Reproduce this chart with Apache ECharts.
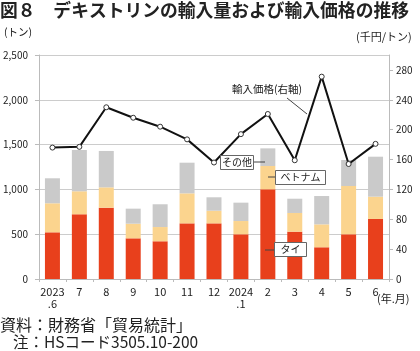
<!DOCTYPE html>
<html>
<head>
<meta charset="utf-8">
<script src="https://cdn.jsdelivr.net/npm/echarts@6/dist/echarts.min.js"></script>
<style>
  html, body { margin: 0; padding: 0; background: #fff; }
  #chart { width: 420px; height: 351px; }
</style>
</head>
<body>
<div id="chart"></div>
<script>
// data
const months = ["2023\n.6", "7", "8", "9", "10", "11", "12", "2024\n.1", "2", "3", "4", "5", "6"];
const thai = [521, 722, 796, 454, 421, 621, 621, 499, 1001, 528, 354, 499, 670];
const vietnam = [324, 257, 227, 163, 159, 335, 141, 148, 260, 209, 256, 539, 249];
const others = [279, 461, 406, 168, 254, 342, 150, 205, 197, 159, 316, 290, 446];
const price = [176, 177, 230, 216, 204, 187, 156, 194, 221, 159, 271, 154, 181];

const FONT = '"Noto Sans CJK JP", "Noto Sans", sans-serif';
const chart = echarts.init(document.getElementById("chart"));

// callout box used for the series names
const boxLabel = (text, x, y, w) => ({
  type: "group",
  left: x,
  top: y,
  z: 100,
  children: [
    {
      type: "rect",
      z: 100,
      shape: { x: 0, y: 0, width: w, height: 14 },
      style: { fill: "#fff", stroke: "#666", lineWidth: 1 },
    },
    {
      type: "text",
      z: 101,
      style: {
        x: w / 2, y: 7, text: text, fill: "#222",
        font: "10px " + FONT, align: "center", verticalAlign: "middle",
      },
    },
  ],
});

const leader = (x1, y1, x2, y2) => ({
  type: "line",
  z: 99,
  shape: { x1, y1, x2, y2 },
  style: { stroke: "#444", lineWidth: 1 },
});

const option = {
  animation: false,
  textStyle: { fontFamily: FONT },
  grid: { left: 36, right: 31, top: 55, bottom: 72 },
  xAxis: {
    type: "category",
    data: months,
    axisLine: { lineStyle: { color: "#bbb" } },
    axisTick: { show: true, length: 3, lineStyle: { color: "#bbb" } },
    axisLabel: { color: "#222", fontSize: 11, lineHeight: 12, margin: 7, interval: 0 },
  },
  yAxis: [
    {
      type: "value",
      min: 0,
      max: 2500,
      interval: 500,
      axisLine: { show: true, lineStyle: { color: "#bbb" } },
      axisTick: { show: true, length: 4, lineStyle: { color: "#bbb" } },
      axisLabel: {
        color: "#222", fontSize: 10, margin: 11,
        formatter: (v) => v.toLocaleString("en-US"),
      },
      splitLine: { lineStyle: { color: "#ccc" } },
    },
    {
      type: "value",
      min: 0,
      max: 300,
      interval: 40,
      position: "right",
      axisLine: { show: true, lineStyle: { color: "#bbb" } },
      axisTick: { show: true, length: 4, lineStyle: { color: "#bbb" } },
      axisLabel: { color: "#222", fontSize: 10, margin: 7, showMaxLabel: false },
      splitLine: { show: false },
    },
  ],
  series: [
    {
      name: "タイ",
      type: "bar",
      stack: "vol",
      data: thai,
      barWidth: 15,
      itemStyle: { color: "#e8401c" },
    },
    {
      name: "ベトナム",
      type: "bar",
      stack: "vol",
      data: vietnam,
      itemStyle: { color: "#fbd48e" },
    },
    {
      name: "その他",
      type: "bar",
      stack: "vol",
      data: others,
      itemStyle: { color: "#cacaca" },
    },
    {
      name: "輸入価格",
      type: "line",
      yAxisIndex: 1,
      data: price,
      symbol: "circle",
      symbolSize: 5,
      lineStyle: { color: "#111", width: 2 },
      itemStyle: { color: "#fff", borderColor: "#333", borderWidth: 1 },
      z: 5,
    },
  ],
  graphic: [
    {
      type: "text",
      left: 0, top: 1,
      style: { text: "図８　デキストリンの輸入量および輸入価格の推移", font: "bold 17.8px " + FONT, fill: "#222" },
    },
    { type: "text", left: 4, top: 27, style: { text: "(トン)", font: "10.5px " + FONT, fill: "#222" } },
    { type: "text", left: 356, top: 31, style: { text: "(千円/トン)", font: "11px " + FONT, fill: "#222" } },
    { type: "text", left: 377, top: 293, style: { text: "(年.月)", font: "11px " + FONT, fill: "#222" } },
    { type: "text", left: 0, top: 317, style: { text: "資料：財務省「貿易統計」", font: "16px " + FONT, fill: "#222" } },
    { type: "text", left: 13, top: 334, style: { text: "注：HSコード3505.10-200", font: "15.5px " + FONT, fill: "#222" } },
    // callouts
    { type: "text", left: 232, top: 84, z: 100, style: { text: "輸入価格(右軸)", font: "10.5px " + FONT, fill: "#222" } },
    leader(287, 98, 307, 114),
    leader(252, 162, 265, 162),
    boxLabel("その他", 220, 155, 33),
    leader(268, 177, 276, 177),
    boxLabel("ベトナム", 275, 170, 50),
    leader(265, 250, 275, 250),
    boxLabel("タイ", 274, 242, 32),
  ],
};

chart.setOption(option);
</script>
</body>
</html>
